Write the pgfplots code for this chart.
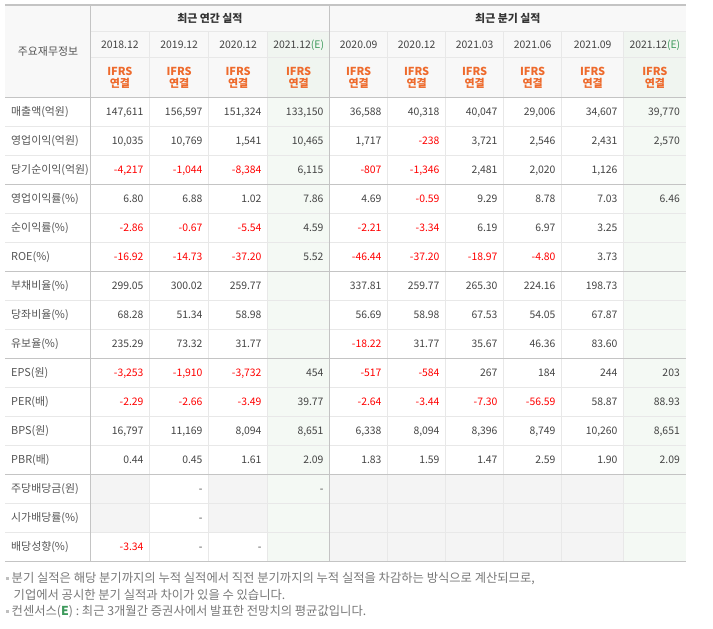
\documentclass[border=0pt]{standalone}
\usepackage{fontspec}
\setmainfont{Noto Sans CJK KR}
\usepackage{pgfplots}
\usepackage{pgfplotstable}
\pgfplotsset{compat=1.18}
\definecolor{txt}{HTML}{444444}
\definecolor{lbl}{HTML}{555555}
\definecolor{hdrtxt}{HTML}{333333}
\definecolor{neg}{HTML}{FF0000}
\definecolor{ifrs}{HTML}{EE6A2C}
\definecolor{egreen}{HTML}{3E9A5C}
\definecolor{hdrbg}{HTML}{F8F8F8}
\definecolor{grnbg}{HTML}{F4F9F4}
\definecolor{grnhdr}{HTML}{F0F5F0}
\definecolor{divbg}{HTML}{F4F4F4}
\definecolor{majl}{HTML}{C4C4C4}
\definecolor{minl}{HTML}{E8E8E8}
\definecolor{note}{HTML}{777777}
\newcommand\tf{\fontsize{10.4bp}{12bp}\selectfont}
\newcommand\lf{\fontsize{10.9bp}{12bp}\selectfont}
\newcommand\hf{\fontsize{11bp}{12bp}\selectfont}
\newcommand\nf{\fontsize{12.3bp}{14bp}\selectfont}
\def\cellA#1#2\relax{\ifx-#1\ifx\relax#2\relax\textcolor{txt}{-}\else\textcolor{neg}{-#2}\fi\else\textcolor{txt}{#1#2}\fi}
\newcommand\cell[1]{\expandafter\cellA#1\relax\relax}

% row labels
\pgfplotstableread{
r v
0 매출액(억원)
1 영업이익(억원)
2 당기순이익(억원)
3 영업이익률(\%)
4 순이익률(\%)
5 ROE(\%)
6 부채비율(\%)
7 당좌비율(\%)
8 유보율(\%)
9 EPS(원)
10 PER(배)
11 BPS(원)
12 PBR(배)
13 주당배당금(원)
14 시가배당률(\%)
15 배당성향(\%)
}\rowlabels

% annual 2018.12
\pgfplotstableread{
r v
0 147,611
1 10,035
2 -4,217
3 6.80
4 -2.86
5 -16.92
6 299.05
7 68.28
8 235.29
9 -3,253
10 -2.29
11 16,797
12 0.44
15 -3.34
}\colA
% annual 2019.12
\pgfplotstableread{
r v
0 156,597
1 10,769
2 -1,044
3 6.88
4 -0.67
5 -14.73
6 300.02
7 51.34
8 73.32
9 -1,910
10 -2.66
11 11,169
12 0.45
13 -
14 -
15 -
}\colB
% annual 2020.12
\pgfplotstableread{
r v
0 151,324
1 1,541
2 -8,384
3 1.02
4 -5.54
5 -37.20
6 259.77
7 58.98
8 31.77
9 -3,732
10 -3.49
11 8,094
12 1.61
15 -
}\colC
% annual 2021.12(E)
\pgfplotstableread{
r v
0 133,150
1 10,465
2 6,115
3 7.86
4 4.59
5 5.52
9 454
10 39.77
11 8,651
12 2.09
13 -
}\colD
% quarter 2020.09
\pgfplotstableread{
r v
0 36,588
1 1,717
2 -807
3 4.69
4 -2.21
5 -46.44
6 337.81
7 56.69
8 -18.22
9 -517
10 -2.64
11 6,338
12 1.83
}\colE
% quarter 2020.12
\pgfplotstableread{
r v
0 40,318
1 -238
2 -1,346
3 -0.59
4 -3.34
5 -37.20
6 259.77
7 58.98
8 31.77
9 -584
10 -3.44
11 8,094
12 1.59
}\colF
% quarter 2021.03
\pgfplotstableread{
r v
0 40,047
1 3,721
2 2,481
3 9.29
4 6.19
5 -18.97
6 265.30
7 67.53
8 35.67
9 267
10 -7.30
11 8,396
12 1.47
}\colG
% quarter 2021.06
\pgfplotstableread{
r v
0 29,006
1 2,546
2 2,020
3 8.78
4 6.97
5 -4.80
6 224.16
7 54.05
8 46.36
9 184
10 -56.59
11 8,749
12 2.59
}\colH
% quarter 2021.09
\pgfplotstableread{
r v
0 34,607
1 2,431
2 1,126
3 7.03
4 3.25
5 3.73
6 198.73
7 67.87
8 83.60
9 244
10 58.87
11 10,260
12 1.90
}\colI
% quarter 2021.12(E)
\pgfplotstableread{
r v
0 39,770
1 2,570
3 6.46
9 203
10 88.93
11 8,651
12 2.09
}\colJ

\begin{document}
\begin{tikzpicture}
\useasboundingbox (0,0) rectangle (713bp,629bp);
\begin{axis}[at={(0,0)}, anchor=south west, scale only axis,
  width=713bp, height=629bp, xmin=0, xmax=713, ymin=0, ymax=629,
  y dir=reverse, hide axis, clip=false,
  point meta=explicit symbolic,
  nodes near coords={\cell{\pgfplotspointmeta}},
  every node near coord/.append style={anchor=base east, inner sep=0pt, font=\tf},
]
% backgrounds
\fill[hdrbg] (axis cs:5,5) rectangle (axis cs:686,97.3);
\fill[grnhdr] (axis cs:267.7,31.7) rectangle (axis cs:329.7,97.3);
\fill[grnhdr] (axis cs:623.7,31.7) rectangle (axis cs:686,97.3);
\fill[grnbg] (axis cs:267.7,97.3) rectangle (axis cs:329.7,561.3);
\fill[grnbg] (axis cs:623.7,97.3) rectangle (axis cs:686,561.3);
\fill[divbg] (axis cs:90,474.3) rectangle (axis cs:149.7,532.3);
\fill[divbg] (axis cs:208.7,474.3) rectangle (axis cs:267.7,532.3);
\fill[divbg] (axis cs:329.7,474.3) rectangle (axis cs:623.7,561.3);
% minor lines
\draw[minl, line width=1bp] (axis cs:90,31.7) -- (axis cs:686,31.7);
\draw[minl, line width=1bp] (axis cs:90,57.3) -- (axis cs:686,57.3);
\draw[minl, line width=1bp] (axis cs:5,126.3) -- (axis cs:686,126.3);
\draw[minl, line width=1bp] (axis cs:5,155.3) -- (axis cs:686,155.3);
\draw[minl, line width=1bp] (axis cs:5,213.3) -- (axis cs:686,213.3);
\draw[minl, line width=1bp] (axis cs:5,242.3) -- (axis cs:686,242.3);
\draw[minl, line width=1bp] (axis cs:5,300.3) -- (axis cs:686,300.3);
\draw[minl, line width=1bp] (axis cs:5,329.3) -- (axis cs:686,329.3);
\draw[minl, line width=1bp] (axis cs:5,387.3) -- (axis cs:686,387.3);
\draw[minl, line width=1bp] (axis cs:5,416.3) -- (axis cs:686,416.3);
\draw[minl, line width=1bp] (axis cs:5,445.3) -- (axis cs:686,445.3);
\draw[minl, line width=1bp] (axis cs:5,503.3) -- (axis cs:686,503.3);
\draw[minl, line width=1bp] (axis cs:5,532.3) -- (axis cs:686,532.3);
\draw[minl, line width=1bp] (axis cs:149.7,31.7) -- (axis cs:149.7,561.3);
\draw[minl, line width=1bp] (axis cs:208.7,31.7) -- (axis cs:208.7,561.3);
\draw[minl, line width=1bp] (axis cs:267.7,31.7) -- (axis cs:267.7,561.3);
\draw[minl, line width=1bp] (axis cs:387.7,31.7) -- (axis cs:387.7,561.3);
\draw[minl, line width=1bp] (axis cs:445.7,31.7) -- (axis cs:445.7,561.3);
\draw[minl, line width=1bp] (axis cs:503.7,31.7) -- (axis cs:503.7,561.3);
\draw[minl, line width=1bp] (axis cs:561.7,31.7) -- (axis cs:561.7,561.3);
\draw[minl, line width=1bp] (axis cs:623.7,31.7) -- (axis cs:623.7,561.3);
% major lines
\draw[majl, line width=1bp] (axis cs:90,5) -- (axis cs:90,561.3);
\draw[majl, line width=1bp] (axis cs:329.7,5) -- (axis cs:329.7,561.3);
\draw[majl, line width=1.2bp] (axis cs:5,5) -- (axis cs:686,5);
\draw[majl, line width=1bp] (axis cs:5,97.3) -- (axis cs:686,97.3);
\draw[majl, line width=1bp] (axis cs:5,184.3) -- (axis cs:686,184.3);
\draw[majl, line width=1bp] (axis cs:5,271.3) -- (axis cs:686,271.3);
\draw[majl, line width=1bp] (axis cs:5,358.3) -- (axis cs:686,358.3);
\draw[majl, line width=1bp] (axis cs:5,474.3) -- (axis cs:686,474.3);
\draw[majl, line width=1bp] (axis cs:5,561.3) -- (axis cs:686,561.3);
% headers
\node[anchor=base, font=\lf\bfseries, text=hdrtxt] at (axis cs:209.9,22.4) {최근 연간 실적};
\node[anchor=base, font=\lf\bfseries, text=hdrtxt] at (axis cs:507.8,22.4) {최근 분기 실적};
\node[anchor=base, font=\lf, text=lbl] at (axis cs:48,55.5) {주요재무정보};
\node[anchor=base, font=\tf, text=txt] at (axis cs:119.9,48.4) {2018.12};
\node[anchor=base, font=\tf, text=txt] at (axis cs:179.2,48.4) {2019.12};
\node[anchor=base, font=\tf, text=txt] at (axis cs:238.2,48.4) {2020.12};
\node[anchor=base, font=\tf, text=txt] at (axis cs:298.7,48.4) {2021.12\textcolor{egreen}{(E)}};
\node[anchor=base, font=\tf, text=txt] at (axis cs:358.7,48.4) {2020.09};
\node[anchor=base, font=\tf, text=txt] at (axis cs:416.7,48.4) {2020.12};
\node[anchor=base, font=\tf, text=txt] at (axis cs:474.7,48.4) {2021.03};
\node[anchor=base, font=\tf, text=txt] at (axis cs:532.7,48.4) {2021.06};
\node[anchor=base, font=\tf, text=txt] at (axis cs:592.7,48.4) {2021.09};
\node[anchor=base, font=\tf, text=txt] at (axis cs:654.9,48.4) {2021.12\textcolor{egreen}{(E)}};
\pgfplotsinvokeforeach{119.9,179.2,238.2,298.7,358.7,416.7,474.7,532.7,592.7,654.9}{
  \node[anchor=base, font=\hf\bfseries, text=ifrs] at (axis cs:#1,75.5) {IFRS};
  \node[anchor=base, font=\hf\bfseries, text=ifrs] at (axis cs:#1,87.4) {연결};
}
% row labels
\addplot[draw=none, mark=none, nodes near coords={\pgfplotspointmeta},
  every node near coord/.append style={anchor=base west, text=lbl, font=\lf}]
  table[x expr=11, y expr=111.8+29*\thisrow{r}+4, meta=v] {\rowlabels};
% values
\addplot[draw=none, mark=none] table[x expr=143.7, y expr=111.8+29*\thisrow{r}+3.9, meta=v] {\colA};
\addplot[draw=none, mark=none] table[x expr=202.7, y expr=111.8+29*\thisrow{r}+3.9, meta=v] {\colB};
\addplot[draw=none, mark=none] table[x expr=261.7, y expr=111.8+29*\thisrow{r}+3.9, meta=v] {\colC};
\addplot[draw=none, mark=none] table[x expr=323.7, y expr=111.8+29*\thisrow{r}+3.9, meta=v] {\colD};
\addplot[draw=none, mark=none] table[x expr=381.7, y expr=111.8+29*\thisrow{r}+3.9, meta=v] {\colE};
\addplot[draw=none, mark=none] table[x expr=439.7, y expr=111.8+29*\thisrow{r}+3.9, meta=v] {\colF};
\addplot[draw=none, mark=none] table[x expr=497.7, y expr=111.8+29*\thisrow{r}+3.9, meta=v] {\colG};
\addplot[draw=none, mark=none] table[x expr=555.7, y expr=111.8+29*\thisrow{r}+3.9, meta=v] {\colH};
\addplot[draw=none, mark=none] table[x expr=617.7, y expr=111.8+29*\thisrow{r}+3.9, meta=v] {\colI};
\addplot[draw=none, mark=none] table[x expr=680, y expr=111.8+29*\thisrow{r}+3.9, meta=v] {\colJ};
% footnotes
\node[anchor=base west, font=\nf, text=note, inner sep=0pt] at (axis cs:6,582.5) {\textcolor{lightgray}{\rule[3bp]{2.5bp}{2.5bp}}\hspace{3bp}분기 실적은 해당 분기까지의 누적 실적에서 직전 분기까지의 누적 실적을 차감하는 방식으로 계산되므로,};
\node[anchor=base west, font=\nf, text=note, inner sep=0pt] at (axis cs:13.5,599) {기업에서 공시한 분기 실적과 차이가 있을 수 있습니다.};
\node[anchor=base west, font=\nf, text=note, inner sep=0pt] at (axis cs:6,615.5) {\textcolor{lightgray}{\rule[3bp]{2.5bp}{2.5bp}}\hspace{3bp}컨센서스(\textcolor{egreen}{\textbf{E}}) : 최근 3개월간 증권사에서 발표한 전망치의 평균값입니다.};
\end{axis}
\end{tikzpicture}
\end{document}
